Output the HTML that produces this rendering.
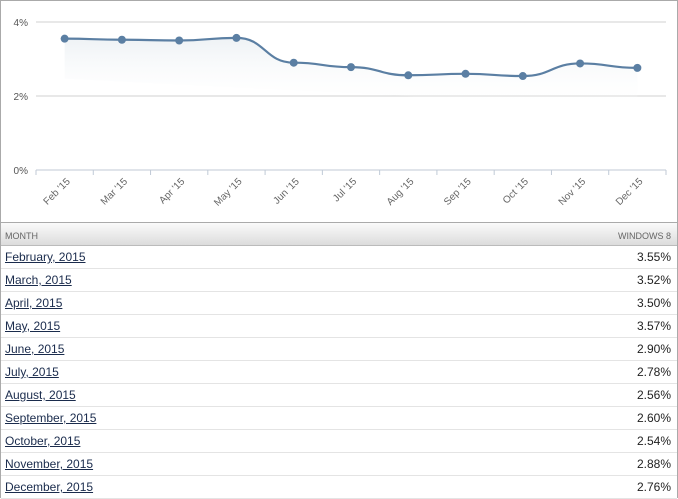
<!DOCTYPE html>
<html><head><meta charset="utf-8"><style>
body{margin:0;width:678px;height:497px;overflow:hidden;background:#fff;font-family:"Liberation Sans",Arial,sans-serif}
#wrap{position:absolute;left:0;top:0;width:676px;height:497px;border:1px solid #aaa;border-bottom:none}
#hdr{position:absolute;left:0;top:221px;width:676px;height:24px;background:linear-gradient(#fafafa,#dcdcdc);border-top:1px solid #aaa;border-bottom:1px solid #bbb;font-size:9px;color:#666;box-sizing:border-box}
#hdr span{position:absolute;top:8px}
.row{position:absolute;left:0;width:676px;height:23px;border-bottom:1px solid #e4e4e4;box-sizing:border-box;font-size:12px}
.row a{position:absolute;left:4px;top:4px;color:#1a2b4c;text-decoration:underline}
.row span{position:absolute;right:6px;top:4px;color:#222}
</style></head><body>
<div id="wrap">
<svg id="chart" width="676" height="221" style="position:absolute;left:0;top:0"></svg>
<div id="hdr"><span style="left:4px">MONTH</span><span style="right:6px">WINDOWS 8</span></div>
<div id="rows"></div>
</div>
<script>
const cats=["Feb '15","Mar '15","Apr '15","May '15","Jun '15","Jul '15","Aug '15","Sep '15","Oct '15","Nov '15","Dec '15"];
const months=["February, 2015","March, 2015","April, 2015","May, 2015","June, 2015","July, 2015","August, 2015","September, 2015","October, 2015","November, 2015","December, 2015"];
const values=[3.55,3.52,3.50,3.57,2.90,2.78,2.56,2.60,2.54,2.88,2.76];
const yTicks=[0,2,4];
const NS="http://www.w3.org/2000/svg";
const svg=document.getElementById('chart');
const x0=35,x1=665,yb=169,yt=21;
const bw=(x1-x0)/cats.length;
const X=i=>x0+bw*(i+0.5);
const Y=v=>yb-(v/4)*(yb-yt);
function mk(t,a){const e=document.createElementNS(NS,t);for(const k in a)e.setAttribute(k,a[k]);svg.appendChild(e);return e;}
const defs=mk('defs',{});
defs.innerHTML='<linearGradient id="ag" x1="0" y1="0" x2="0" y2="1"><stop offset="0" stop-color="#eef2f5"/><stop offset="1" stop-color="#fff" stop-opacity="0"/></linearGradient>';
yTicks.forEach(t=>{
 const l=mk('line',{x1:x0,x2:x1,y1:Y(t),y2:Y(t),stroke:t===0?'#c0cad6':'#d0d0d0','stroke-width':1});
 
 const tx=mk('text',{x:27,y:Y(t)+4,'text-anchor':'end','font-size':10,fill:'#555'});tx.textContent=t+'%';
 
});
for(let i=0;i<=cats.length;i++){const tk=mk('line',{x1:x0+bw*i,x2:x0+bw*i,y1:yb,y2:yb+5,stroke:'#c0cad6'});}
cats.forEach((c,i)=>{
 const t=mk('text',{x:X(i)+6,y:yb+12,'text-anchor':'end','font-size':10,fill:'#666',transform:`rotate(-45 ${X(i)+6} ${yb+12})`});t.textContent=c;
 
});
let d='';
values.forEach((v,i)=>{
 const x=X(i),y=Y(v);
 if(i===0)d+=`M${x},${y}`;else{const px=X(i-1),py=Y(values[i-1]);const cx=(px+x)/2;d+=` C${cx},${py} ${cx},${y} ${x},${y}`;}
});
const area=mk('path',{d:d+` L${X(values.length-1)},${Y(values[values.length-1])+40} L${X(0)},${Y(values[0])+40} Z`,fill:'url(#ag)'});

const ln=mk('path',{d:d,fill:'none',stroke:'#5b7fa3','stroke-width':2.2});

values.forEach((v,i)=>{const c=mk('circle',{cx:X(i),cy:Y(v),r:4,fill:'#5b7fa3'});});
const rows=document.getElementById('rows');
months.forEach((m,i)=>{
 const r=document.createElement('div');r.className='row';r.style.top=(245+i*23)+'px';
 
 const a=document.createElement('a');a.textContent=m;
 
 const s=document.createElement('span');s.textContent=values[i].toFixed(2)+'%';
 
 r.appendChild(a);r.appendChild(s);rows.appendChild(r);
});
</script>
</body></html>
